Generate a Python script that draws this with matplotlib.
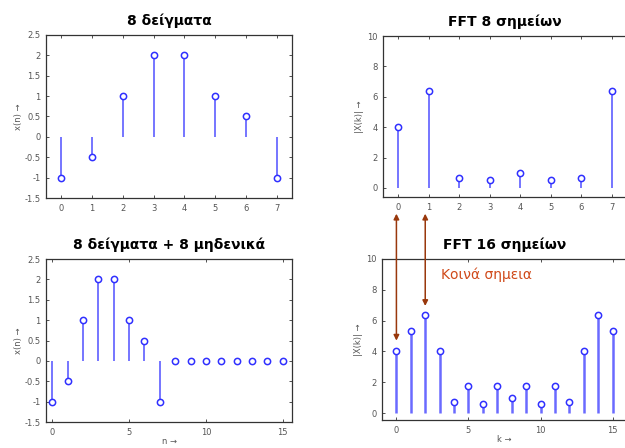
import numpy as np
from matplotlib import pyplot as plt
from matplotlib.patches import ConnectionPatch
from matplotlib.ticker import FormatStrFormatter
from matplotlib.transforms import blended_transform_factory

# data
n8 = np.arange(8)
x8 = [-1, -0.5, 1, 2, 2, 1, 0.5, -1]
X8 = [4, 6.4, 0.65, 0.55, 1.0, 0.55, 0.65, 6.4]

n16 = np.arange(16)
x16 = [-1, -0.5, 1, 2, 2, 1, 0.5, -1, 0, 0, 0, 0, 0, 0, 0, 0]
X16 = [4, 5.3, 6.35, 4.05, 0.7, 1.75, 0.6, 1.75, 1.0, 1.75, 0.6, 1.75, 0.7, 4.05, 6.35, 5.3]

titles = ['8 δείγματα', 'FFT 8 σημείων', '8 δείγματα + 8 μηδενικά', 'FFT 16 σημείων']

plt.rcParams['font.family'] = ['DejaVu Sans']

fig = plt.figure(figsize=(6.25, 4.48), dpi=100)

line_col = '#6a6aff'
mark_col = '#3030ff'
tick_col = '#555555'


def stem_plot(ax, n, v, lw=1.3, right=True):
    m, s, b = ax.stem(n, v, basefmt=' ')
    plt.setp(s, color=line_col, linewidth=lw)
    plt.setp(m, marker='o', markersize=4.5, markerfacecolor='white',
             markeredgecolor=mark_col, markeredgewidth=1.1)
    ax.tick_params(direction='in', length=2.5, width=0.6, top=True, right=right,
                   labelsize=6, labelcolor=tick_col, color='#333333', pad=4)
    for sp in ax.spines.values():
        sp.set_color('#333333')
        sp.set_linewidth(0.9)


# top left
ax1 = fig.add_axes([0.0736, 0.558, 0.3936, 0.364])
stem_plot(ax1, n8, x8)
ax1.set_xlim(-0.5, 7.5)
ax1.set_ylim(-1.5, 2.5)
ax1.set_xticks(n8)
ax1.set_yticks(np.arange(-1.5, 2.51, 0.5))
ax1.yaxis.set_major_formatter(FormatStrFormatter('%g'))
ax1.set_ylabel('x(n) →', fontsize=6, color=tick_col, labelpad=1)

# top right
ax2 = fig.add_axes([0.6128, 0.5603, 0.3904, 0.3593])
stem_plot(ax2, n8, X8, right=False)
ax2.set_xlim(-0.5, 7.5)
ax2.set_ylim(-0.6, 10)
ax2.set_xticks(n8)
ax2.set_yticks(np.arange(0, 11, 2))
ax2.set_ylabel('|X(k)| →', fontsize=6, color=tick_col, labelpad=2)

# bottom left
ax3 = fig.add_axes([0.0736, 0.058, 0.3936, 0.3638])
stem_plot(ax3, n16, x16)
ax3.set_xlim(-0.4, 15.6)
ax3.set_ylim(-1.5, 2.5)
ax3.set_xticks([0, 5, 10, 15])
ax3.set_yticks(np.arange(-1.5, 2.51, 0.5))
ax3.yaxis.set_major_formatter(FormatStrFormatter('%g'))
ax3.set_ylabel('x(n) →', fontsize=6, color=tick_col, labelpad=1)
ax3.set_xlabel('n →', fontsize=6, color=tick_col, labelpad=0)

# bottom right
ax4 = fig.add_axes([0.6112, 0.0625, 0.392, 0.3594])
stem_plot(ax4, n16, X16, lw=1.8, right=False)
ax4.set_xlim(-1, 16)
ax4.set_ylim(-0.45, 10)
ax4.set_xticks([0, 5, 10, 15])
ax4.set_yticks(np.arange(0, 11, 2))
ax4.set_ylabel('|X(k)| →', fontsize=6, color=tick_col, labelpad=2)
ax4.set_xlabel('k →', fontsize=6, color=tick_col, labelpad=0)

for ax, t in zip([ax1, ax2, ax3, ax4], titles):
    ax.set_title(t, fontsize=10, fontweight='bold', pad=7)

ax4.text(3.1, 9.0, 'Κοινά σημεια', color='#d04a1a', fontsize=10, va='center')

# vertical arrows linking the common points of the two FFTs
arrow_col = '#99380c'
top_tr = blended_transform_factory(ax4.transData, ax2.transData)
for kb, yb in [(0, 4.7), (2, 6.95)]:
    con = ConnectionPatch(xyA=(kb, -1.7), coordsA=top_tr,
                          xyB=(kb, yb), coordsB=ax4.transData,
                          arrowstyle='<|-|>', mutation_scale=8,
                          color=arrow_col, linewidth=1.1)
    fig.add_artist(con)

plt.savefig('out.png', dpi=100)
